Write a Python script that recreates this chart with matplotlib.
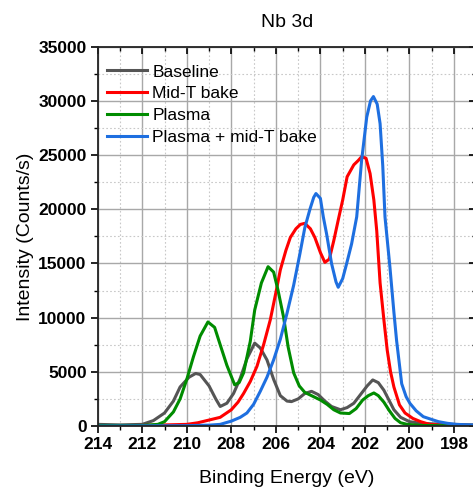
import matplotlib
matplotlib.use("Agg")
import matplotlib.pyplot as plt
from matplotlib.ticker import MultipleLocator

plt.rcParams['font.family'] = ['Liberation Sans', 'DejaVu Sans']

labels = ["Baseline", "Mid-T bake", "Plasma", "Plasma + mid-T bake"]
colors = ["#555555", "#ff0000", "#008c00", "#1e6fe0"]

be_baseline = [214, 213, 212, 211.5, 211.0, 210.6, 210.3, 209.9, 209.6, 209.4, 209.0, 208.7, 208.5, 208.2,
               207.9, 207.6, 207.3, 206.95, 206.7, 206.4, 206.1, 205.8, 205.5, 205.3, 205.0, 204.7, 204.4,
               204.1, 203.8, 203.5, 203.1, 202.8, 202.5, 202.2, 201.9, 201.65, 201.4, 201.15, 200.9, 200.7,
               200.4, 200.0, 199.5, 199, 198, 197]
int_baseline = [150, 100, 150, 500, 1200, 2300, 3600, 4500, 4850, 4750, 3700, 2500, 1800, 2100,
                3000, 4400, 6200, 7650, 7200, 6100, 4300, 2800, 2300, 2250, 2500, 3000, 3200,
                2900, 2300, 1800, 1500, 1700, 2100, 2900, 3700, 4250, 4000, 3300, 2300, 1500,
                800, 400, 250, 200, 150, 100]

be_midT = [214, 212, 211, 210, 209.5, 209, 208.5, 208.0, 207.7, 207.45, 207.15, 206.85, 206.55, 206.25,
           206.0, 205.8, 205.55, 205.35, 205.1, 204.9, 204.7, 204.45, 204.25, 204.0, 203.8, 203.6, 203.4,
           203.2, 203.0, 202.8, 202.5, 202.3, 202.15, 201.95, 201.77, 201.6, 201.47, 201.32, 201.15, 201.0,
           200.85, 200.7, 200.45, 200.2, 199.85, 199.5, 199.1, 198.5, 197.5]
int_midT = [30, 50, 100, 150, 300, 550, 800, 1500, 2200, 3000, 4100, 5500, 7500, 9800,
            12300, 14400, 16200, 17400, 18200, 18600, 18700, 18200, 17400, 16000, 15100, 15400, 17100,
            19000, 20850, 23000, 24100, 24500, 24850, 24700, 23300, 20850, 18000, 13200, 9800, 7000,
            5000, 3600, 1950, 1200, 700, 400, 150, 80, 50]

be_plasma = [214, 212, 211.3, 211.0, 210.6, 210.3, 210.0, 209.7, 209.4, 209.05, 208.75, 208.5, 208.2,
             207.85, 207.65, 207.45, 207.15, 206.95, 206.65, 206.35, 206.1, 205.9, 205.65, 205.45, 205.2,
             204.95, 204.7, 204.3, 204.0, 203.7, 203.4, 203.1, 202.7, 202.4, 202.1, 201.85, 201.6, 201.4,
             201.15, 200.9, 200.65, 200.4, 200.1, 199.5, 198, 197]
int_plasma = [50, 50, 150, 400, 1300, 2500, 4300, 6400, 8300, 9600, 9100, 7500, 5600,
              3800, 4000, 4900, 7800, 10700, 13200, 14700, 14200, 12500, 10000, 7300, 4900,
              3700, 3100, 2700, 2400, 2000, 1500, 1200, 1150, 1600, 2400, 2800, 3050, 2800,
              2200, 1400, 700, 300, 150, 50, 30, 20]

be_plasma_midT = [214, 210, 209, 208.5, 208.0, 207.6, 207.3, 207.0, 206.7, 206.4, 206.1, 205.8, 205.5,
                  205.2, 204.92, 204.7, 204.47, 204.3, 204.2, 204.0, 203.87, 203.72, 203.5, 203.3, 203.2,
                  203.0, 202.82, 202.6, 202.37, 202.15, 201.92, 201.75, 201.62, 201.45, 201.32, 201.2,
                  201.1, 200.88, 200.7, 200.58, 200.35, 200.15, 199.98, 199.7, 199.38, 199.0, 198.7,
                  198.3, 197.9, 197]
int_plasma_midT = [0, 30, 80, 150, 450, 800, 1200, 2000, 3200, 4500, 6100, 8000, 10400,
                   13000, 15900, 18300, 20000, 21100, 21450, 21000, 19300, 17700, 15000, 13300, 12800,
                   13600, 15000, 16800, 19300, 24500, 28500, 30000, 30400, 29700, 27900, 24000,
                   19300, 14700, 10500, 7900, 3900, 2700, 2090, 1400, 860, 600, 400,
                   250, 150, 80]

x_ticks = [214, 212, 210, 208, 206, 204, 202, 200, 198]
y_ticks = [0, 5000, 10000, 15000, 20000, 25000, 30000, 35000]

W, H = 473, 490
fig = plt.figure(figsize=(W / 100, H / 100), dpi=100)
left, bottom, top = 97.7, 426.0, 46.7
right = 476.3
ax = fig.add_axes([left / W, (H - bottom) / H, (right - left) / W, (bottom - top) / H])

series = [(be_baseline, int_baseline), (be_midT, int_midT), (be_plasma, int_plasma),
          (be_plasma_midT, int_plasma_midT)]
for (x, y), lab, c in zip(series, labels, colors):
    ax.plot(x, y, color=c, lw=2.2, label=lab, solid_joinstyle='round')

ax.set_xlim(214, 197)
ax.set_ylim(0, 35000)
ax.set_xticks(x_ticks)
ax.set_xticklabels([str(v) for v in x_ticks])
ax.set_yticks(y_ticks)
ax.set_yticklabels([str(v) for v in y_ticks])
ax.xaxis.set_minor_locator(MultipleLocator(1))
ax.yaxis.set_minor_locator(MultipleLocator(2500))

ax.grid(True, which='major', color='#a8a8a8', lw=1.0, ls='-')
ax.grid(True, which='minor', color='#c8c8c8', lw=0.8, ls=(0, (1.5, 2)))
ax.set_axisbelow(True)

for s in ax.spines.values():
    s.set_linewidth(1.3)
    s.set_color('#222222')

ax.tick_params(axis='both', which='major', direction='out', length=5, width=1.2,
               labelsize=12.5, pad=3)
ax.tick_params(axis='both', which='minor', direction='out', length=3, width=1.0)
ax.tick_params(top=True, right=True, which='both')
for t in ax.xaxis.get_major_ticks() + ax.xaxis.get_minor_ticks():
    t.tick2line.set_marker(3)
for t in ax.yaxis.get_major_ticks() + ax.yaxis.get_minor_ticks():
    t.tick2line.set_marker(0)
for lab in ax.get_xticklabels() + ax.get_yticklabels():
    lab.set_fontweight('bold')

ax.set_xlabel('Binding Energy (eV)', fontsize=14, labelpad=13)
ax.set_ylabel('Intensity (Counts/s)', fontsize=14, labelpad=3)
ax.set_title('Nb 3d', fontsize=14, pad=14)

leg = ax.legend(loc='upper left', frameon=False, fontsize=12.5, handlelength=2.3,
                handletextpad=0.29, labelspacing=0.38, borderaxespad=0.16, borderpad=0.4,
                bbox_to_anchor=(0.0, 0.979))

fig.savefig('out.png', dpi=100)
